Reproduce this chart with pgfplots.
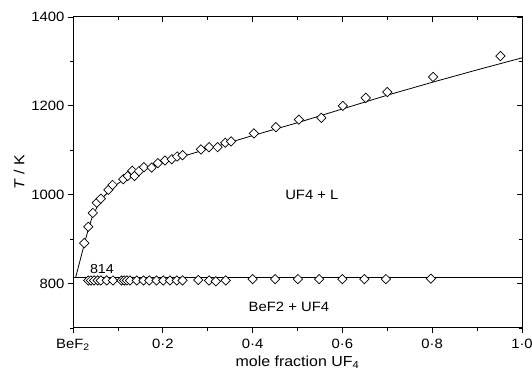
\documentclass[border=0pt]{standalone}
\usepackage{fontspec}
\setmainfont{Liberation Sans}[FakeStretch=1.1]
\usepackage{pgfplots}
\pgfplotsset{compat=1.18}
\usetikzlibrary{calc}
\begin{document}
\begin{tikzpicture}
\pgfplotsset{
  common/.style={
    width=449pt, height=311pt, scale only axis,
    xmin=0, xmax=1, ymin=700, ymax=1400,
    xtick={0,0.2,0.4,0.6,0.8,1.0}, minor xtick={0.1,0.3,0.5,0.7,0.9},
    ytick={800,1000,1200,1400}, minor ytick={700,900,1100,1300},
    axis line style={line width=1pt},
    major tick length=5pt, minor tick length=3pt,
    every tick/.style={black, line width=0.8pt},
  }
}
\begin{axis}[common, name=ax,
  tick align=outside, xtick pos=left, ytick pos=left,
  xticklabels={BeF\textsubscript{2}, 0·2, 0·4, 0·6, 0·8, 1·0},
  /pgf/number format/assume math mode=true,
  /pgf/number format/1000 sep={},
  ticklabel style={font=\fontsize{13.5}{15}\selectfont},
  xticklabel style={yshift=-3pt},
  label style={font=\fontsize{14.5}{16}\selectfont},
  xlabel style={yshift=2pt},
  ylabel={\textit{T} / K},
  xlabel={mole fraction UF\textsubscript{4}},
]
\addplot[black, line width=0.8pt] coordinates {
(0,814) (1,814)};
\addplot[black, line width=0.8pt] coordinates {
(0.006,814) (0.025,888) (0.034,922) (0.044,953) (0.055,975) (0.065,992)
(0.08,1008) (0.1,1025) (0.12,1038) (0.14,1048) (0.16,1057) (0.18,1065)
(0.2,1072) (0.25,1088) (0.3,1103) (0.35,1118) (0.4,1133) (0.5,1162)
(0.6,1193) (0.7,1224) (0.8,1253) (0.9,1281) (1.0,1308)};
\addplot[only marks, mark=square*, mark size=3.3pt,
  mark options={rotate=45, fill=white, draw=black, line width=0.7pt}] coordinates {
(0.025,891) (0.034,928) (0.044,959) (0.053,982) (0.062,991) (0.079,1011)
(0.088,1022) (0.112,1035) (0.122,1042) (0.132,1054) (0.137,1042) (0.147,1053)
(0.158,1062) (0.175,1061) (0.189,1071) (0.205,1077) (0.220,1080) (0.232,1086)
(0.244,1089) (0.285,1102) (0.303,1107) (0.322,1107) (0.339,1117) (0.352,1120)
(0.403,1138) (0.452,1152) (0.503,1169) (0.553,1173) (0.601,1200) (0.652,1218)
(0.700,1231) (0.802,1265) (0.952,1312)};
\addplot[only marks, mark=square*, mark size=3.3pt,
  mark options={rotate=45, fill=white, draw=black, line width=0.7pt}] coordinates {
(0.034,807) (0.040,807) (0.047,807) (0.055,807) (0.062,807) (0.075,807)
(0.089,807) (0.108,807) (0.114,807) (0.120,807) (0.127,807) (0.142,807)
(0.157,807) (0.170,807) (0.186,807) (0.201,807) (0.216,807) (0.231,807)
(0.244,807) (0.279,808) (0.303,807) (0.318,805) (0.340,807) (0.400,810)
(0.450,810) (0.501,810) (0.548,810) (0.600,810) (0.649,810) (0.697,810)
(0.797,811)};
\node[anchor=base west, font=\fontsize{13}{15}\selectfont] at (axis cs:0.03,823) {814};
\node[font=\fontsize{13.5}{15}\selectfont] at (axis cs:0.532,999) {UF4 + L};
\node[font=\fontsize{13.5}{15}\selectfont] at (axis cs:0.481,747) {BeF2 + UF4};
\end{axis}
\begin{axis}[common, tick align=inside, xtick pos=right, ytick pos=right,
  xticklabels={}, yticklabels={}]
\end{axis}
\pgfresetboundingbox
\path ($(ax.south west)+(-73pt,-52pt)$) rectangle ($(ax.north east)+(10pt,17pt)$);
\end{tikzpicture}
\end{document}
